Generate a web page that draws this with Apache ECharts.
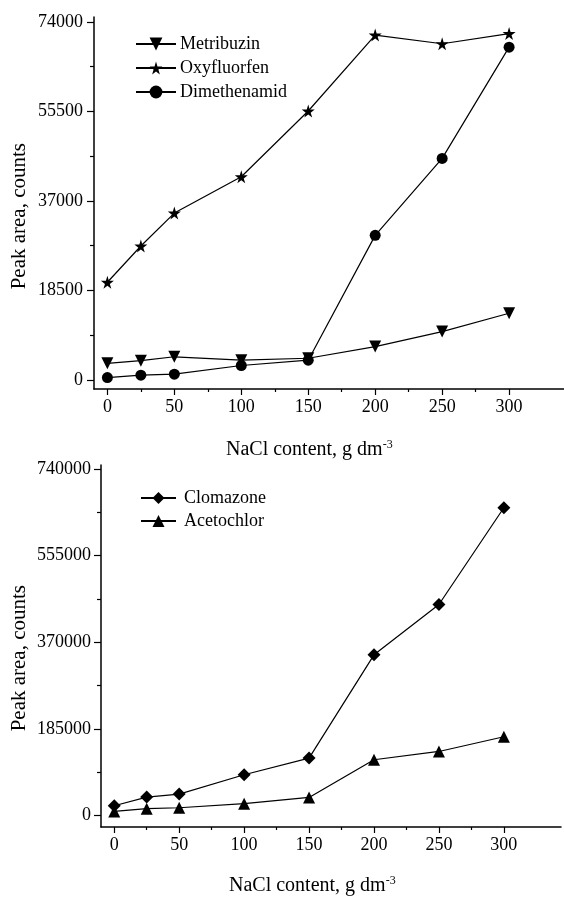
<!DOCTYPE html>
<html>
<head>
<meta charset="utf-8">
<script src="https://cdn.jsdelivr.net/npm/echarts@6/dist/echarts.min.js"></script>
<style>
  html, body { margin: 0; padding: 0; background: #fff; }
  #chart { width: 564px; height: 897px; }
</style>
</head>
<body>
<div id="chart"></div>
<script>
// NaCl content, g dm-3
const conc = [0, 25, 50, 100, 150, 200, 250, 300];
// top panel
const metribuzin = [3450, 4000, 4800, 4100, 4500, 6900, 10000, 13800];
const oxyfluorfen = [20200, 27700, 34500, 42000, 55600, 71300, 69500, 71600];
const dimethenamid = [500, 1000, 1200, 3000, 4100, 29900, 45800, 68800];
// bottom panel
const clomazone = [20700, 39200, 45600, 86900, 122500, 343000, 450600, 657200];
const acetochlor = [8500, 14300, 16400, 25000, 38400, 118900, 136600, 168000];

// tick labels
const xTicks = [0, 50, 100, 150, 200, 250, 300];
const xMinor = [25, 75, 125, 175, 225, 275];
const yTicksTop = [0, 18500, 37000, 55500, 74000];
const yMinorTop = [9250, 27750, 46250, 64750];
const yTicksBot = [0, 185000, 370000, 555000, 740000];
const yMinorBot = [92500, 277500, 462500, 647500];

const FONT = "'Liberation Serif', 'DejaVu Serif', serif";
const starPath = "path://M50,0 L61,35 L98,35 L68,57 L79,91 L50,70 L21,91 L32,57 L2,35 L39,35 Z";

function pairs(ys) {
  return conc.map((x, i) => [x, ys[i]]);
}
function plain(v) {
  return String(v);
}

// major axis (line + labels + long ticks)
function majorX(grid, min, max) {
  return {
    type: "value", gridIndex: grid, min: min, max: max, position: "bottom",
    axisLine: { onZero: false, lineStyle: { color: "#000", width: 1.5 } },
    axisTick: { customValues: xTicks, length: 6, lineStyle: { color: "#000", width: 1.2 } },
    axisLabel: { customValues: xTicks, formatter: plain, color: "#000", fontFamily: FONT, fontSize: 18, margin: 9 },
    splitLine: { show: false }
  };
}
// minor ticks only, drawn on an overlaid axis
function minorX(grid, min, max) {
  return {
    type: "value", gridIndex: grid, min: min, max: max, position: "bottom",
    axisLine: { show: false, onZero: false },
    axisTick: { customValues: xMinor, length: 3, lineStyle: { color: "#000", width: 1.2 } },
    axisLabel: { show: false },
    splitLine: { show: false }
  };
}
function majorY(grid, min, max, ticks, margin) {
  return {
    type: "value", gridIndex: grid, min: min, max: max, position: "left",
    axisLine: { show: true, onZero: false, lineStyle: { color: "#000", width: 1.5 } },
    axisTick: { show: true, customValues: ticks, length: 7, lineStyle: { color: "#000", width: 1.2 } },
    axisLabel: { customValues: ticks, formatter: plain, color: "#000", fontFamily: FONT, fontSize: 18, margin: margin },
    splitLine: { show: false }
  };
}
function minorY(grid, min, max, ticks) {
  return {
    type: "value", gridIndex: grid, min: min, max: max, position: "left",
    axisLine: { show: false, onZero: false },
    axisTick: { show: true, customValues: ticks, length: 4, lineStyle: { color: "#000", width: 1.2 } },
    axisLabel: { show: false },
    splitLine: { show: false }
  };
}

function lineSeries(name, data, xi, yi, symbol, size, rotate) {
  return {
    name: name, type: "line", xAxisIndex: xi, yAxisIndex: yi,
    data: pairs(data),
    symbol: symbol, symbolSize: size, symbolRotate: rotate || 0,
    showAllSymbol: true,
    lineStyle: { color: "#000", width: 1.2 },
    itemStyle: { color: "#000" },
    z: 3
  };
}

const legendText = { color: "#000", fontFamily: FONT, fontSize: 18, lineHeight: 18 };

const chart = echarts.init(document.getElementById("chart"));
const option = {
  backgroundColor: "#fff",
  animation: false,
  grid: [
    { left: 94, right: 0, top: 17, height: 372 },
    { left: 101, right: 3, top: 465, height: 362 }
  ],
  xAxis: [
    majorX(0, -10, 341),
    minorX(0, -10, 341),
    majorX(1, -10.2, 344),
    minorX(1, -10.2, 344)
  ],
  yAxis: [
    majorY(0, -1860, 75030, yTicksTop, 11),
    minorY(0, -1860, 75030, yMinorTop),
    majorY(1, -24760, 748540, yTicksBot, 10),
    minorY(1, -24760, 748540, yMinorBot)
  ],
  legend: [
    {
      orient: "vertical", left: 130, top: 30,
      itemWidth: 40, itemHeight: 16, itemGap: 6,
      textStyle: Object.assign({ padding: [0, 0, 0, -1] }, legendText),
      data: ["Metribuzin", "Oxyfluorfen", "Dimethenamid"]
    },
    {
      orient: "vertical", left: 135, top: 484,
      itemWidth: 35, itemHeight: 15, itemGap: 5,
      textStyle: Object.assign({ padding: [0, 0, 0, 3] }, legendText),
      data: ["Clomazone", "Acetochlor"]
    }
  ],
  graphic: [
    {
      type: "text", left: 9, top: 143, rotation: Math.PI / 2,
      style: { text: "Peak area, counts", fill: "#000", font: "21px " + FONT }
    },
    {
      type: "text", left: 9, top: 585, rotation: Math.PI / 2,
      style: { text: "Peak area, counts", fill: "#000", font: "21px " + FONT }
    },
    {
      type: "text", left: 226, top: 439,
      style: {
        text: "NaCl content, g dm{sup|-3}", fill: "#000", font: "20px " + FONT,
        rich: { sup: { fontSize: 12, fontFamily: FONT, fill: "#000", verticalAlign: "top", padding: [0, 0, 10, 0] } }
      }
    },
    {
      type: "text", left: 229, top: 875,
      style: {
        text: "NaCl content, g dm{sup|-3}", fill: "#000", font: "20px " + FONT,
        rich: { sup: { fontSize: 12, fontFamily: FONT, fill: "#000", verticalAlign: "top", padding: [0, 0, 10, 0] } }
      }
    }
  ],
  series: [
    lineSeries("Metribuzin", metribuzin, 0, 0, "triangle", 12, 180),
    lineSeries("Oxyfluorfen", oxyfluorfen, 0, 0, starPath, 13),
    lineSeries("Dimethenamid", dimethenamid, 0, 0, "circle", 11),
    lineSeries("Clomazone", clomazone, 2, 2, "diamond", 13),
    lineSeries("Acetochlor", acetochlor, 2, 2, "triangle", 12)
  ]
};
chart.setOption(option);
</script>
</body>
</html>
